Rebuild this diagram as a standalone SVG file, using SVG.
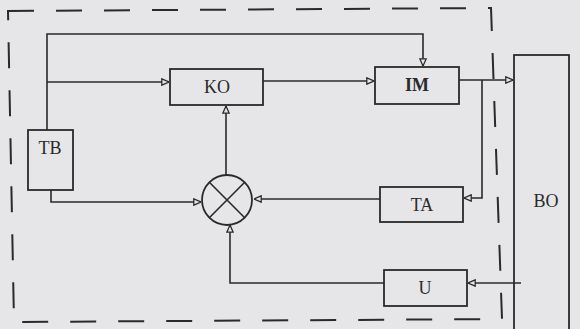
<svg xmlns="http://www.w3.org/2000/svg" width="580" height="329" viewBox="0 0 580 329">
<style>
.ln{fill:none;stroke:#2a2a2a;stroke-width:1.6}
.bx{fill:none;stroke:#2a2a2a;stroke-width:1.8}
.t{font-family:"Liberation Serif","Times New Roman",serif;font-size:18px;fill:#2a2a2a;text-anchor:middle;dominant-baseline:central}
.b{font-weight:bold}
.dash{fill:none;stroke:#2a2a2a;stroke-width:2;stroke-dasharray:26 22}
</style>
<defs>
<marker id="ar" viewBox="0 0 10 10" refX="10" refY="5" markerWidth="8" markerHeight="8" markerUnits="userSpaceOnUse" orient="auto">
<path d="M1,1 L10,5 L1,9 Z" fill="#e6e6e8" stroke="#2a2a2a" stroke-width="1.6"/>
</marker>
</defs>
<rect width="580" height="329" fill="#e6e6e8"/>
<path class="dash" d="M8,11 L491,8 L502,319 L14,322 Z"/>
<g id="connectors">
<path class="ln" d="M47,130 V34 H423 V66" marker-end="url(#ar)"/>
<path class="ln" d="M47,82 H169" marker-end="url(#ar)"/>
<path class="ln" d="M263,81 H374" marker-end="url(#ar)"/>
<path class="ln" d="M459,80 H513" marker-end="url(#ar)"/>
<path class="ln" d="M482,80 V198 H464" marker-end="url(#ar)"/>
<path class="ln" d="M380,199 H254" marker-end="url(#ar)"/>
<path class="ln" d="M226,175 V106" marker-end="url(#ar)"/>
<path class="ln" d="M51,190 V202 H201" marker-end="url(#ar)"/>
<path class="ln" d="M521,283 H468" marker-end="url(#ar)"/>
<path class="ln" d="M384,283 H230 V225" marker-end="url(#ar)"/>
</g>
<g id="TB"><rect class="bx" x="28" y="130" width="45" height="60"/><text class="t" x="50" y="148">TB</text></g>
<g id="KO"><rect class="bx" x="170" y="69" width="93" height="36"/><text class="t" x="217" y="87">KO</text></g>
<g id="IM"><rect class="bx" x="375" y="67" width="84" height="37"/><text class="t b" x="417" y="85">IM</text></g>
<g id="TA"><rect class="bx" x="380" y="187" width="83" height="35"/><text class="t" x="422" y="205">TA</text></g>
<g id="U"><rect class="bx" x="384" y="270" width="83" height="36"/><text class="t" x="425" y="288">U</text></g>
<g id="BO"><rect class="bx" x="514" y="55" width="55" height="290"/><text class="t" x="546" y="201">BO</text></g>
<g id="SUM"><circle class="bx" cx="227" cy="200" r="25"/><path class="ln" d="M209.3,182.3 L244.7,217.7 M244.7,182.3 L209.3,217.7"/></g>
</svg>
